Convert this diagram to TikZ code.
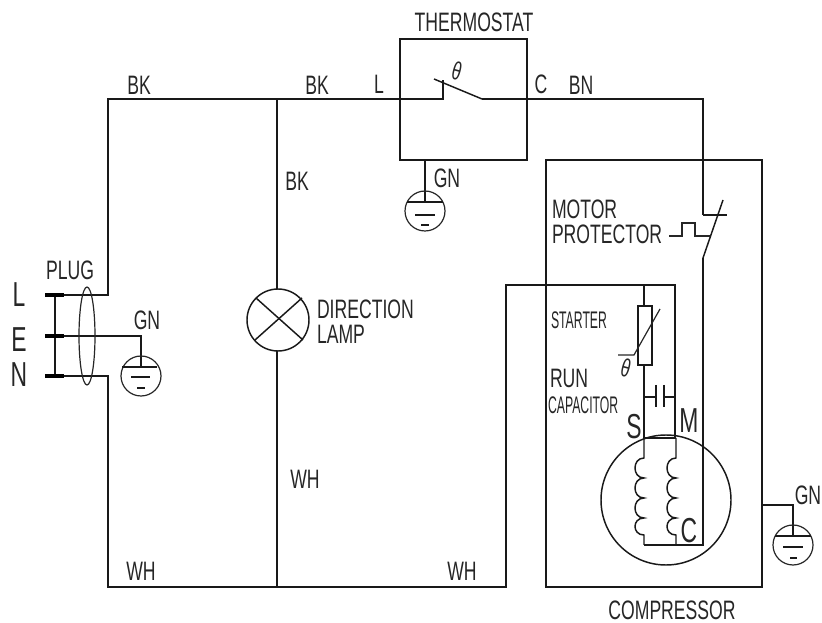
\documentclass[tikz,border=0pt]{standalone}
\usepackage{fontspec}
\setmainfont[FakeStretch=0.66]{Liberation Sans}
\newfontfamily\narrowfont[FakeStretch=0.51]{Liberation Sans}
\tikzset{
  wire/.style={line width=1.1pt,black!90},
  thin wire/.style={line width=0.9pt,black!85},
  lab/.style={inner sep=0pt,outer sep=0pt,font=\fontsize{20}{19}\selectfont,text=black!85},
  twolines/.style={lab,align=left},
  biglab/.style={lab,font=\fontsize{26}{26}\selectfont},
  narrowlab/.style={lab,font=\narrowfont\fontsize{18}{18}\selectfont},
  thetalab/.style={lab,font=\fontsize{19}{19}\selectfont,rotate=-15},
}
\begin{document}
\begin{tikzpicture}[x=0.75pt,y=-0.75pt]
\useasboundingbox (0,0) rectangle (822,623);
% wires
\coordinate (tl) at (108,99);
\coordinate (tj) at (277,99);
\coordinate (bl) at (108,587);
\coordinate (bj) at (277,587);
\draw[wire] (64,295) -| (tl) -- (443,99) -- (443,80);
\draw[wire] (434,79) -- (482,99);
\draw[wire] (482,99) -- (703,99) -- (703,215);
\draw[wire] (703,215) -- (727,215);
\draw[wire] (723,200) -- (703,258);
\draw[wire] (703,258) -- (703,545) -- (644,545);
\draw[wire] (tj) -- (277,289);
\draw[wire] (277,351) -- (bj);
\draw[wire] (64,376) -| (bl) -- (506,587) -- (506,285) -- (675,285) -- (675,438);
\draw[wire] (644,285) -- (644,306);
\draw[wire] (644,365) -- (644,438) -- (676,438);
\draw[wire] (644,397) -- (656,397);
\draw[wire] (664,397) -- (675,397);
\draw[wire] (656,385) -- (656,407);
\draw[wire] (664,385) -- (664,407);
% plug
\draw[wire] (55,295) -- (55,376);
\draw[line width=3pt,black] (45,295) -- (64,295);
\draw[line width=3pt,black] (45,336) -- (64,336);
\draw[line width=3pt,black] (45,376) -- (64,376);
\draw[wire] (64,336) -- (141,336) -- (141,367);
\draw[thin wire] (87,336) ellipse[x radius=8,y radius=49];
% earth 1
\draw[thin wire] (141,376) circle[radius=20];
\draw[wire] (122,367) -- (157,367);
\draw[wire] (131,377) -- (150,377);
\draw[wire] (137,388) -- (145,388);
% thermostat
\draw[wire] (400,39) rectangle (527,160);
\draw[wire] (425,160) -- (425,202);
\draw[thin wire] (425,211) circle[radius=20];
\draw[wire] (407,202) -- (443,202);
\draw[wire] (415,215) -- (435,215);
\draw[wire] (421,225) -- (429,225);
% lamp
\draw[wire] (278,320) circle[radius=31];
\draw[wire] (256,298) -- (303,340);
\draw[wire] (255,340) -- (302,298);
% compressor
\draw[wire] (546,160) rectangle (762,587);
\draw[thin wire] (669,236) -- (682,236) -- (682,223) -- (695,223) -- (695,236) -- (710,236);
% starter
\draw[wire] (638,306) rectangle (652,365);
\draw[thin wire] (618,355) -- (634,355) -- (660,309);
% motor
\draw[wire] (666,500) circle[radius=65];
\foreach \cx in {644,676}{
  \draw[wire] (\cx,438) -- (\cx,458)
    .. controls (\cx-12,458) and (\cx-12,478) .. (\cx,478)
    .. controls (\cx-12,478) and (\cx-12,498) .. (\cx,498)
    .. controls (\cx-12,498) and (\cx-12,518) .. (\cx,518)
    .. controls (\cx-12,518) and (\cx-12,535) .. (\cx,535) -- (\cx,545);
}
% earth 3
\draw[wire] (762,505) -- (793,505) -- (793,536);
\draw[thin wire] (793,545) circle[radius=20];
\draw[wire] (775,536) -- (811,536);
\draw[wire] (783,547) -- (803,547);
\draw[wire] (790,558) -- (797,558);
% labels
\node[lab,anchor=center] (t1) at (474,22) {THERMOSTAT};
\node[lab] (t2) at (139,85) {BK};
\node[lab] (t3) at (317,85) {BK};
\node[lab] (t4) at (379,84) {L};
\node[lab] (t5) at (541,84) {C};
\node[lab] (t6) at (581,85) {BN};
\node[lab] (t7) at (297,181) {BK};
\node[lab] (t8) at (447,178) {GN};
\node[twolines,anchor=west] (t9) at (552,222) {MOTOR\\PROTECTOR};
\node[lab] (t10) at (70,270) {PLUG};
\node[lab] (t11) at (147,320) {GN};
\node[biglab] (t12) at (19,295) {L};
\node[biglab] (t13) at (19,340) {E};
\node[biglab] (t14) at (19,375) {N};
\node[twolines,anchor=west] (t15) at (317,322) {DIRECTION\\LAMP};
\node[narrowlab,anchor=west] (t16) at (551,320) {STARTER};
\node[lab,anchor=west] (t17) at (550,378) {RUN};
\node[narrowlab,anchor=west] (t18) at (548,405) {CAPACITOR};
\node[biglab] (t19) at (634,427) {S};
\node[biglab] (t20) at (689,421) {M};
\node[biglab] (t21) at (689,531) {C};
\node[lab] (t22) at (305,479) {WH};
\node[lab] (t23) at (141,571) {WH};
\node[lab] (t24) at (462,571) {WH};
\node[lab] (t25) at (808,495) {GN};
\node[lab] (t26) at (672,610) {COMPRESSOR};
\node[thetalab] (t27) at (457,71) {θ};
\node[thetalab] (t28) at (626,368) {θ};
\end{tikzpicture}
\end{document}
